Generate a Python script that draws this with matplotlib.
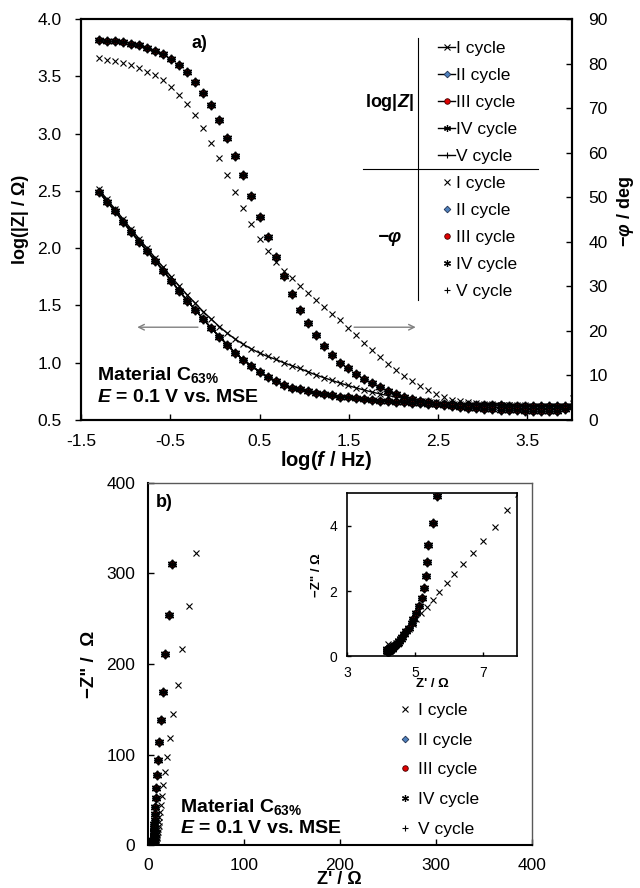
import numpy as np
import matplotlib
matplotlib.use("Agg")
import matplotlib.pyplot as plt
from matplotlib.lines import Line2D

plt.rcParams['font.family'] = ['Liberation Sans', 'DejaVu Sans']
plt.rcParams['mathtext.fontset'] = 'custom'
plt.rcParams['mathtext.rm'] = 'Liberation Sans'
plt.rcParams['mathtext.it'] = 'Liberation Sans:italic'
plt.rcParams['mathtext.bf'] = 'Liberation Sans:bold'
plt.rcParams['mathtext.bfit'] = 'Liberation Sans:italic:bold'
plt.rcParams['axes.unicode_minus'] = False

# frequency sweep, log10(f / Hz)
log_f = [-1.30, -1.21, -1.12, -1.03, -0.94, -0.85, -0.76, -0.67, -0.58, -0.49,
         -0.40, -0.31, -0.22, -0.13, -0.04, 0.05, 0.14, 0.23, 0.32, 0.41,
         0.50, 0.59, 0.68, 0.77, 0.86, 0.95, 1.04, 1.13, 1.22, 1.31,
         1.40, 1.49, 1.58, 1.67, 1.76, 1.85, 1.94, 2.03, 2.12, 2.21,
         2.30, 2.39, 2.48, 2.57, 2.66, 2.75, 2.84, 2.93, 3.02, 3.11,
         3.20, 3.29, 3.38, 3.47, 3.56, 3.65, 3.74, 3.83, 3.92, 4.01]

# log|Z| (Ohm), first cycle
logz_cycle1 = [2.514, 2.427, 2.342, 2.255, 2.167, 2.083, 1.999, 1.917, 1.833, 1.751,
               1.670, 1.592, 1.519, 1.446, 1.380, 1.315, 1.257, 1.205, 1.160, 1.120,
               1.085, 1.055, 1.030, 1.000, 0.975, 0.950, 0.922, 0.894, 0.870, 0.846,
               0.823, 0.802, 0.781, 0.762, 0.744, 0.728, 0.713, 0.701, 0.690, 0.679,
               0.670, 0.662, 0.655, 0.649, 0.645, 0.641, 0.638, 0.635, 0.633, 0.631,
               0.630, 0.629, 0.628, 0.627, 0.626, 0.626, 0.625, 0.625, 0.625, 0.625]

# log|Z| (Ohm), cycles II-V (curves coincide)
logz_cycles2to5 = [2.493, 2.406, 2.325, 2.231, 2.144, 2.057, 1.976, 1.891, 1.804, 1.717,
                   1.627, 1.542, 1.461, 1.380, 1.301, 1.228, 1.155, 1.083, 1.024, 0.972,
                   0.922, 0.875, 0.837, 0.804, 0.783, 0.769, 0.754, 0.740, 0.728, 0.717,
                   0.704, 0.699, 0.690, 0.682, 0.675, 0.669, 0.664, 0.658, 0.656, 0.652,
                   0.647, 0.643, 0.640, 0.638, 0.636, 0.634, 0.632, 0.630, 0.629, 0.628,
                   0.627, 0.626, 0.625, 0.624, 0.624, 0.623, 0.623, 0.622, 0.622, 0.622]

# -phase (deg), first cycle
phase_cycle1 = [81.2, 80.8, 80.6, 80.1, 79.6, 78.9, 78.2, 77.4, 76.2, 74.8,
                72.9, 70.9, 68.5, 65.5, 62.2, 58.7, 54.9, 51.2, 47.6, 44.1,
                40.7, 38.0, 35.4, 33.5, 31.8, 30.1, 28.4, 26.9, 25.4, 23.9,
                22.4, 20.7, 19.1, 17.3, 15.7, 14.2, 12.6, 11.2, 9.9, 8.8,
                7.7, 6.7, 5.8, 5.1, 4.5, 4.2, 4.0, 3.8, 3.6, 3.5,
                3.4, 3.3, 3.2, 3.1, 3.0, 2.9, 2.8, 2.7, 2.8, 5.0]

# -phase (deg), cycles II-V
phase_cycles2to5 = [85.3, 85.1, 85.1, 84.8, 84.5, 84.2, 83.6, 82.9, 82.1, 81.0,
                    79.7, 78.0, 75.9, 73.5, 70.7, 67.3, 63.4, 59.3, 55.0, 50.3,
                    45.6, 41.0, 36.5, 32.3, 28.3, 24.8, 21.8, 19.0, 16.6, 14.7,
                    12.9, 11.6, 10.3, 9.3, 8.2, 7.4, 6.6, 5.8, 5.2, 4.7,
                    4.3, 4.0, 3.6, 3.3, 3.1, 2.9, 2.7, 2.6, 2.5, 2.4,
                    2.3, 2.2, 2.2, 2.1, 2.1, 2.0, 2.0, 2.1, 2.4, 3.0]

cycle_names = ["I cycle", "II cycle", "III cycle", "IV cycle", "V cycle"]
logz_sets = [logz_cycle1] + [logz_cycles2to5] * 4
phase_sets = [phase_cycle1] + [phase_cycles2to5] * 4

styles = [
    dict(marker='x', ms=4.5, mew=0.8, mfc='none', mec='black'),
    dict(marker='D', ms=4.2, mew=0.8, mfc='#4F81BD', mec='#1F2F4F'),
    dict(marker='o', ms=4.6, mew=0.8, mfc='#E00000', mec='black'),
    dict(marker=(6, 2, 0), ms=6.8, mew=1.1, mfc='none', mec='black'),
    dict(marker='+', ms=6.2, mew=1.0, mfc='none', mec='black'),
]
legend_styles = [
    dict(marker='x', ms=4.5, mew=0.8, mfc='none', mec='black'),
    dict(marker='D', ms=3.4, mew=0.6, mfc='#4F81BD', mec='#1F2F4F'),
    dict(marker='o', ms=4.0, mew=0.6, mfc='#E00000', mec='#400000'),
    dict(marker=(6, 2, 0), ms=5.0, mew=0.9, mfc='none', mec='black'),
    dict(marker='+', ms=5.0, mew=0.8, mfc='none', mec='black'),
]

# Nyquist coordinates from modulus and phase
nyq_re, nyq_im = [], []
for z, p in zip(logz_sets, phase_sets):
    mod = 10 ** np.array(z)
    ang = np.radians(p)
    nyq_re.append(mod * np.cos(ang))
    nyq_im.append(mod * np.sin(ang))

fig = plt.figure(figsize=(6.4, 8.88), dpi=100)

# ---- a) Bode plot ----
ax_a = fig.add_axes([0.1266, 0.527, 0.767, 0.4516])
ax_phi = ax_a.twinx()

for z, p, st in zip(logz_sets, phase_sets, styles):
    ax_a.plot(log_f, z, color='black', lw=1.0, **st)
    ax_phi.plot(log_f, p, ls='none', **st)

ax_a.set_xlim(-1.5, 4.0)
ax_a.set_ylim(0.5, 4.0)
ax_phi.set_ylim(0, 90)
ax_a.set_xticks(np.arange(-1.5, 4.0, 1.0))
ax_a.set_yticks(np.arange(0.5, 4.01, 0.5))
ax_phi.set_yticks(np.arange(0, 91, 10))
ax_a.xaxis.set_major_formatter(matplotlib.ticker.FormatStrFormatter('%.1f'))
ax_a.yaxis.set_major_formatter(matplotlib.ticker.FormatStrFormatter('%.1f'))
ax_a.tick_params(axis='x', direction='in', length=4, width=1, labelsize=12.5, pad=10)
ax_a.tick_params(axis='y', direction='out', length=4, width=1, labelsize=12.5, pad=10)
ax_phi.tick_params(axis='y', direction='in', length=4, width=1, labelsize=12.5, pad=12)
for ax in (ax_a, ax_phi):
    for s in ax.spines.values():
        s.set_linewidth(1.5)

ax_a.set_ylabel("log(|Z| / Ω)", fontsize=13, fontweight='bold')
ax_a.yaxis.set_label_coords(-0.105, 0.5)
ax_phi.set_ylabel(r"−$\mathbfit{φ}$ / deg", fontsize=13, fontweight='bold')
ax_phi.yaxis.set_label_coords(1.088, 0.52)
ax_a.set_xlabel(r"log($\mathbfit{f}$ / Hz)", fontsize=14.5, fontweight='bold')
ax_a.xaxis.set_label_coords(0.5, -0.072)

ax_a.text(0.242, 0.940, "a)", transform=ax_a.transAxes, fontsize=13,
          fontweight='bold', ha='center', va='center')
ax_a.text(0.033, 0.112, r"Material $\mathbf{C_{63\%}}$", transform=ax_a.transAxes,
          fontsize=14, fontweight='bold', ha='left', va='center')
ax_a.text(0.033, 0.055, r"$\mathbfit{E}$ = 0.1 V vs. MSE", transform=ax_a.transAxes,
          fontsize=14, fontweight='bold', ha='left', va='center')

# arrows pointing to the respective axes
arrow = dict(arrowstyle='->', color='#808080', lw=1.0, shrinkA=0, shrinkB=0)
ax_a.annotate('', xy=(-0.87, 1.31), xytext=(-0.19, 1.31), arrowprops=arrow)
ax_a.annotate('', xy=(2.25, 1.31), xytext=(1.56, 1.31), arrowprops=arrow)

# grouped legend
z_handles = [Line2D([], [], color='black', lw=1.0, **st) for st in legend_styles]
p_handles = [Line2D([], [], ls='none', **st) for st in legend_styles]
leg_kw = dict(frameon=False, fontsize=12.5, handlelength=1.0, handletextpad=0.05,
              labelspacing=0.69, borderpad=0, borderaxespad=0, loc='upper left')
leg1 = ax_phi.legend(z_handles, cycle_names, bbox_to_anchor=(0.727, 0.946), **leg_kw)
ax_phi.add_artist(leg1)
ax_phi.legend(p_handles, cycle_names, bbox_to_anchor=(0.727, 0.609), **leg_kw)
ax_phi.add_line(Line2D([0.686, 0.686], [0.953, 0.299], transform=ax_phi.transAxes,
                       color='black', lw=0.8))
ax_phi.add_line(Line2D([0.574, 0.931], [0.626, 0.626], transform=ax_phi.transAxes,
                       color='black', lw=0.8))
ax_phi.text(0.629, 0.793, r"log|$\mathbfit{Z}$|", transform=ax_phi.transAxes,
            fontsize=13, fontweight='bold', ha='center', va='center')
ax_phi.text(0.629, 0.454, "−φ", transform=ax_phi.transAxes, fontsize=13.5,
            fontweight='bold', fontstyle='italic', ha='center', va='center')

# ---- b) Nyquist plot ----
ax_b = fig.add_axes([0.231, 0.0484, 0.6, 0.4077])
for re, im, st in zip(nyq_re, nyq_im, styles):
    ax_b.plot(re, im, ls='none', **st)
ax_b.set_xlim(0, 400)
ax_b.set_ylim(0, 400)
ax_b.set_xticks(np.arange(0, 401, 100))
ax_b.set_yticks(np.arange(0, 401, 100))
ax_b.tick_params(direction='in', length=4, width=1, labelsize=12.5, pad=9)
for side in ('left', 'bottom'):
    ax_b.spines[side].set_linewidth(1.5)
for side in ('top', 'right'):
    ax_b.spines[side].set_linewidth(1.0)
    ax_b.spines[side].set_color('#595959')
ax_b.set_ylabel('−Z" /  Ω', fontsize=13.5, fontweight='bold')
ax_b.yaxis.set_label_coords(-0.129, 0.5)
ax_b.set_xlabel("Z' / Ω", fontsize=13, fontweight='bold')
ax_b.xaxis.set_label_coords(0.5, -0.073)

ax_b.text(0.042, 0.945, "b)", transform=ax_b.transAxes, fontsize=13,
          fontweight='bold', ha='center', va='center')
ax_b.text(0.083, 0.105, r"Material $\mathbf{C_{63\%}}$", transform=ax_b.transAxes,
          fontsize=14, fontweight='bold', ha='left', va='center')
ax_b.text(0.083, 0.047, r"$\mathbfit{E}$ = 0.1 V vs. MSE", transform=ax_b.transAxes,
          fontsize=14, fontweight='bold', ha='left', va='center')

ax_b.legend(p_handles, cycle_names, frameon=False, fontsize=12.5, handlelength=1.0,
            handletextpad=0.25, labelspacing=0.84, borderpad=0, borderaxespad=0,
            loc='upper left', bbox_to_anchor=(0.646, 0.393))

# inset: high-frequency region
ax_in = fig.add_axes([0.542, 0.261, 0.266, 0.1836])
for re, im, st in zip(nyq_re, nyq_im, styles):
    ax_in.plot(re, im, ls='none', **st)
ax_in.set_xlim(3, 8)
ax_in.set_ylim(0, 5)
ax_in.set_xticks([3, 5, 7])
ax_in.set_yticks([0, 2, 4])
ax_in.tick_params(direction='in', length=3, width=1, labelsize=10, pad=7)
for s in ax_in.spines.values():
    s.set_linewidth(1.2)
ax_in.set_ylabel('−Z" / Ω', fontsize=9.5, fontweight='bold')
ax_in.yaxis.set_label_coords(-0.141, 0.5)
ax_in.set_xlabel("Z' / Ω", fontsize=9.5, fontweight='bold')
ax_in.xaxis.set_label_coords(0.5, -0.135)

fig.savefig("out.png", dpi=100)
